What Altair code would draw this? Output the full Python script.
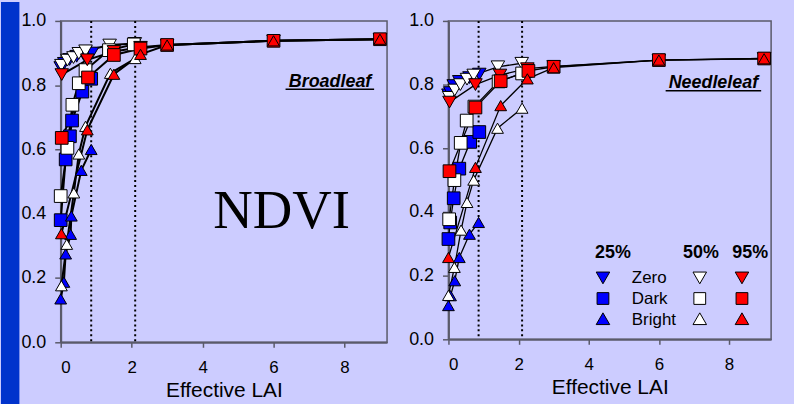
import altair as alt
import pandas as pd

# ---------------- data ----------------
surfaces = ["Zero", "Dark", "Bright"]
covers = ["25%", "50%", "95%"]
x_ticks = [0, 2, 4, 6, 8]
y_ticks = [0.0, 0.2, 0.4, 0.6, 0.8, 1.0]
cover_limits = [0.86, 2.1]   # dotted lines (max effective LAI for 25% and 50% cover)

# Broadleaf
bl_zero25_lai = [0.0, 0.1, 0.25, 0.45, 0.65, 0.88]
bl_zero25_ndvi = [0.855, 0.868, 0.88, 0.89, 0.895, 0.90]
bl_zero50_lai = [0.02, 0.19, 0.36, 0.51, 0.70, 1.38, 2.09]
bl_zero50_ndvi = [0.862, 0.878, 0.886, 0.899, 0.907, 0.925, 0.93]
bl_zero95_lai = [0.03, 0.75, 1.5, 2.25, 3.0, 6.0, 9.0]
bl_zero95_ndvi = [0.833, 0.879, 0.905, 0.918, 0.925, 0.938, 0.943]
bl_dark25_lai = [0.0, 0.14, 0.26, 0.32, 0.61, 0.86]
bl_dark25_ndvi = [0.38, 0.569, 0.641, 0.69, 0.78, 0.82]
bl_dark50_lai = [0.0, 0.19, 0.33, 0.51, 0.70, 1.36, 2.06]
bl_dark50_ndvi = [0.455, 0.605, 0.739, 0.806, 0.847, 0.909, 0.927]
bl_dark95_lai = [0.03, 0.77, 1.5, 2.25, 3.0, 6.0, 9.0]
bl_dark95_ndvi = [0.636, 0.824, 0.894, 0.914, 0.925, 0.938, 0.943]
bl_bright25_lai = [0.0, 0.09, 0.14, 0.28, 0.30, 0.58, 0.86]
bl_bright25_ndvi = [0.135, 0.187, 0.275, 0.336, 0.393, 0.535, 0.60]
bl_bright50_lai = [0.02, 0.17, 0.37, 0.51, 0.70, 1.40, 2.10]
bl_bright50_ndvi = [0.176, 0.305, 0.465, 0.586, 0.672, 0.837, 0.883]
bl_bright95_lai = [0.02, 0.75, 1.5, 2.25, 3.0, 6.0, 9.0]
bl_bright95_ndvi = [0.338, 0.661, 0.834, 0.896, 0.925, 0.938, 0.943]

# Needleleaf
nl_zero25_lai = [0.0, 0.05, 0.15, 0.31, 0.6, 0.88]
nl_zero25_ndvi = [0.768, 0.775, 0.797, 0.81, 0.822, 0.833]
nl_zero50_lai = [0.02, 0.18, 0.34, 0.53, 0.72, 1.41, 2.09]
nl_zero50_ndvi = [0.76, 0.783, 0.80, 0.817, 0.83, 0.856, 0.867]
nl_zero95_lai = [0.03, 0.77, 1.47, 2.25, 3.0, 6.0, 9.0]
nl_zero95_ndvi = [0.745, 0.80, 0.83, 0.85, 0.857, 0.877, 0.882]
nl_dark25_lai = [0.0, 0.05, 0.15, 0.31, 0.62, 0.88]
nl_dark25_ndvi = [0.315, 0.367, 0.443, 0.536, 0.62, 0.651]
nl_dark50_lai = [0.02, 0.17, 0.35, 0.52, 0.74, 1.43, 2.10]
nl_dark50_ndvi = [0.377, 0.50, 0.617, 0.687, 0.731, 0.81, 0.835]
nl_dark95_lai = [0.03, 0.77, 1.49, 2.28, 3.0, 6.0, 9.0]
nl_dark95_ndvi = [0.528, 0.728, 0.811, 0.843, 0.856, 0.877, 0.882]
nl_bright25_lai = [0.0, 0.06, 0.18, 0.31, 0.60, 0.86]
nl_bright25_ndvi = [0.106, 0.137, 0.184, 0.257, 0.33, 0.367]
nl_bright50_lai = [0.0, 0.17, 0.36, 0.53, 0.72, 1.40, 2.10]
nl_bright50_ndvi = [0.138, 0.226, 0.343, 0.43, 0.50, 0.663, 0.726]
nl_bright95_lai = [0.0, 0.77, 1.49, 2.25, 3.0, 6.0, 9.0]
nl_bright95_ndvi = [0.257, 0.54, 0.734, 0.818, 0.853, 0.877, 0.881]

panel_titles = ["Broadleaf", "Needleleaf"]
index_label = "NDVI"
x_title = "Effective LAI"

BLUE, WHITE, RED = "#0000ff", "#ffffff", "#ff0000"
BG = "#ccccff"
STRIP = "#0033cc"
AXIS_COL = "#5a5a6a"
FONT = "Liberation Sans"
SHAPES = ["triangle-down", "square", "triangle-up"]
SIZES = [185, 140, 185]

series_bl = {
    ("Zero", "25%"): (bl_zero25_lai, bl_zero25_ndvi),
    ("Zero", "50%"): (bl_zero50_lai, bl_zero50_ndvi),
    ("Zero", "95%"): (bl_zero95_lai, bl_zero95_ndvi),
    ("Dark", "25%"): (bl_dark25_lai, bl_dark25_ndvi),
    ("Dark", "50%"): (bl_dark50_lai, bl_dark50_ndvi),
    ("Dark", "95%"): (bl_dark95_lai, bl_dark95_ndvi),
    ("Bright", "25%"): (bl_bright25_lai, bl_bright25_ndvi),
    ("Bright", "50%"): (bl_bright50_lai, bl_bright50_ndvi),
    ("Bright", "95%"): (bl_bright95_lai, bl_bright95_ndvi),
}
series_nl = {
    ("Zero", "25%"): (nl_zero25_lai, nl_zero25_ndvi),
    ("Zero", "50%"): (nl_zero50_lai, nl_zero50_ndvi),
    ("Zero", "95%"): (nl_zero95_lai, nl_zero95_ndvi),
    ("Dark", "25%"): (nl_dark25_lai, nl_dark25_ndvi),
    ("Dark", "50%"): (nl_dark50_lai, nl_dark50_ndvi),
    ("Dark", "95%"): (nl_dark95_lai, nl_dark95_ndvi),
    ("Bright", "25%"): (nl_bright25_lai, nl_bright25_ndvi),
    ("Bright", "50%"): (nl_bright50_lai, nl_bright50_ndvi),
    ("Bright", "95%"): (nl_bright95_lai, nl_bright95_ndvi),
}


def build_df(series):
    rows = []
    for ci, cov in enumerate(covers):
        for si, surf in enumerate(surfaces):
            lai, ndvi = series[(surf, cov)]
            for a, b in zip(lai, ndvi):
                rows.append({"surface": surf, "cover": cov, "sid": surf + cov,
                             "lai": a, "ndvi": b, "z": ci * 10 + si})
    return pd.DataFrame(rows)


def panel(series, width, height, title_text, title_pos, underline, ndvi_pos, legend, strip, line_w):
    df = build_df(series)
    xs = alt.Scale(domain=[0, 9.2], nice=False, zero=False)
    ys = alt.Scale(domain=[0, 1], nice=False)
    xenc = alt.X("lai:Q", scale=xs,
                 axis=alt.Axis(values=x_ticks, title=x_title, format="d", labelFontSize=17,
                               tickSize=5, labelPadding=12, titlePadding=4, titleFontSize=21))
    yenc = alt.Y("ndvi:Q", scale=ys,
                 axis=alt.Axis(values=y_ticks, title=None, format=".1f", labelFontSize=18,
                               tickSize=6, labelPadding=9))

    layers = []
    if strip:
        layers.append(alt.Chart(alt.Data(values=[{}])).mark_rect(color=STRIP).encode(
            x=alt.value(-60), x2=alt.value(-41.5), y=alt.value(-19), y2=alt.value(404 - 19)))

    rules = alt.Chart(pd.DataFrame({"lai": cover_limits})).mark_rule(
        color="black", strokeDash=[2, 3], strokeWidth=2).encode(
        x=alt.X("lai:Q", scale=xs))
    layers.append(rules)

    lines = alt.Chart(df).mark_line(color="black", strokeWidth=line_w).encode(
        x=xenc, y=yenc, detail="sid:N", order="lai:Q")
    layers.append(lines)

    pts = alt.Chart(df).mark_point(filled=True, stroke="black", strokeWidth=1, opacity=1).encode(
        x=alt.X("lai:Q", scale=xs), y=alt.Y("ndvi:Q", scale=ys),
        shape=alt.Shape("surface:N", scale=alt.Scale(domain=surfaces, range=SHAPES), legend=None),
        fill=alt.Fill("cover:N", scale=alt.Scale(domain=covers, range=[BLUE, WHITE, RED]), legend=None),
        size=alt.Size("surface:O", scale=alt.Scale(domain=surfaces, range=SIZES), legend=None),
        order=alt.Order("z:Q"))
    layers.append(pts)

    # panel label (bold italic, underlined)
    layers.append(alt.Chart(alt.Data(values=[{}])).mark_text(
        font=FONT, fontSize=18, fontWeight="bold", fontStyle="italic", color="black",
        align="center", baseline="alphabetic").encode(
        x=alt.value(title_pos[0]), y=alt.value(title_pos[1]), text=alt.value(title_text)))
    layers.append(alt.Chart(alt.Data(values=[{}])).mark_rule(color="black", strokeWidth=1.5).encode(
        x=alt.value(underline[0]), x2=alt.value(underline[1]), y=alt.value(underline[2])))

    if ndvi_pos is not None:
        layers.append(alt.Chart(alt.Data(values=[{}])).mark_text(
            font="Liberation Serif", fontSize=55, color="black",
            align="center", baseline="alphabetic").encode(
            x=alt.value(ndvi_pos[0]), y=alt.value(ndvi_pos[1]), text=alt.value(index_label)))

    if legend:
        col_x = [155.3, 252.6, 295.0]
        head_x = [165.3, 253.8, 303.3]
        row_y = [258.3, 279.0, 299.3]
        label_y = [263.7, 285.0, 306.0]
        fills = [BLUE, WHITE, RED]
        for ci, cov in enumerate(covers):
            layers.append(alt.Chart(alt.Data(values=[{}])).mark_text(
                font=FONT, fontSize=18, fontWeight="bold", color="black",
                align="center", baseline="alphabetic").encode(
                x=alt.value(head_x[ci]), y=alt.value(238.3), text=alt.value(cov)))
        for si, surf in enumerate(surfaces):
            layers.append(alt.Chart(alt.Data(values=[{}])).mark_text(
                font=FONT, fontSize=17, color="black",
                align="left", baseline="alphabetic").encode(
                x=alt.value(184.3), y=alt.value(label_y[si]), text=alt.value(surf)))
            for ci, cov in enumerate(covers):
                layers.append(alt.Chart(alt.Data(values=[{}])).mark_point(
                    filled=True, stroke="black", strokeWidth=1, opacity=1,
                    shape=SHAPES[si], size=SIZES[si], fill=fills[ci]).encode(
                    x=alt.value(col_x[ci]), y=alt.value(row_y[si])))

    return alt.layer(*layers).properties(width=width, height=height)


left = panel(series_bl, 328, 323, panel_titles[0], (270.7, 66), (226, 315, 68.7),
             (222, 207.7), False, True, 2.0)
right = panel(series_nl, 324.3, 320, panel_titles[1], (266.3, 67), (218.3, 314.3, 70.3),
              None, True, False, 1.3)

chart = alt.hconcat(left, right, bounds="flush", spacing=61.7).configure(
    background=BG,
    padding={"left": 0, "top": 0, "right": 20, "bottom": 0},
    font=FONT,
).configure_view(
    stroke=AXIS_COL, strokeWidth=1.5, fill=None
).configure_axis(
    grid=False, domainColor=AXIS_COL, domainWidth=2, tickColor=AXIS_COL, tickWidth=1.5,
    labelColor="black", titleColor="black", labelFont=FONT, titleFont=FONT,
    titleFontWeight="normal",
)

chart.save("out.html", embed_options={"renderer": "svg", "actions": False})
